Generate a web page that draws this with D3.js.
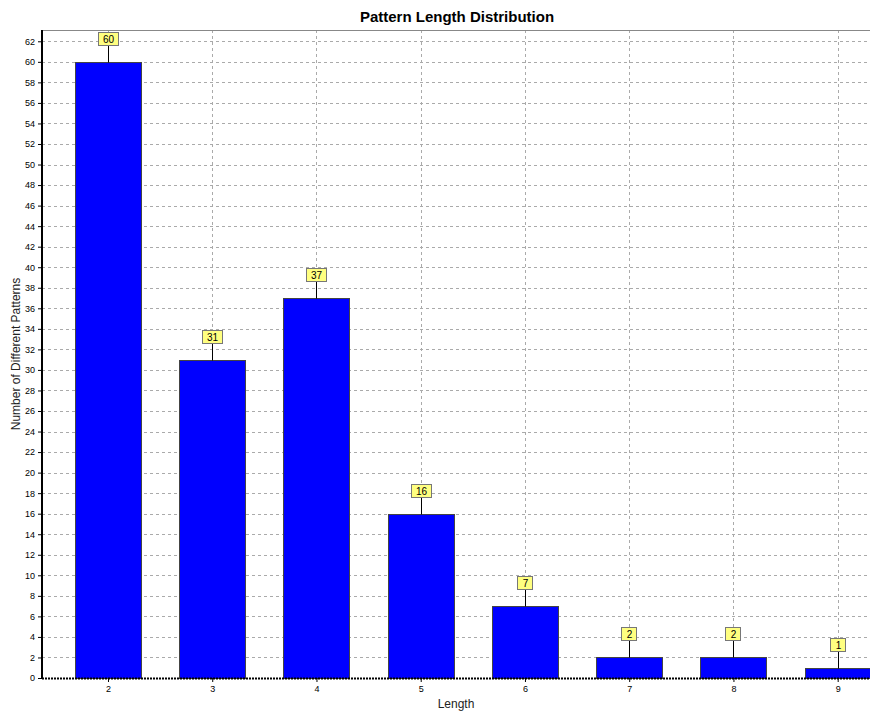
<!DOCTYPE html>
<html><head><meta charset="utf-8">
<script src="https://cdn.jsdelivr.net/npm/d3@7"></script>
<style>body{margin:0;background:#fff}svg{display:block}text{font-family:"Liberation Sans",Arial,sans-serif}</style>
</head><body><svg id="c" width="870" height="711"></svg>
<script>
const categories = [2,3,4,5,6,7,8,9];
const values = [60,31,37,16,7,2,2,1];
const yTicks = d3.range(0,63,2);
const title = "Pattern Length Distribution";
const xTitle = "Length";
const yTitle = "Number of Different Patterns";

const svg = d3.select("#c");
const L=42, R=870, T=30, B=678;
const x = d3.scaleLinear().domain([1.367, 9.31]).range([L, R]);
const y = d3.scaleLinear().domain([0, 63.1]).range([B, T]);
const barW = 66;

// grid
svg.append("g").selectAll("line").data(yTicks.filter(d=>d>0)).join("line")
  .attr("x1",L).attr("x2",R).attr("y1",d=>Math.round(y(d))+0.5).attr("y2",d=>Math.round(y(d))+0.5)
  .attr("stroke","#aaa").attr("stroke-dasharray","3,3");
svg.append("g").selectAll("line").data(categories).join("line")
  .attr("x1",d=>Math.round(x(d))+0.5).attr("x2",d=>Math.round(x(d))+0.5).attr("y1",T).attr("y2",B)
  .attr("stroke","#aaa").attr("stroke-dasharray","3,3");

// top border
svg.append("line").attr("x1",L).attr("x2",R).attr("y1",T+0.5).attr("y2",T+0.5).attr("stroke","#888");

// bars
svg.append("g").selectAll("rect").data(values).join("rect")
  .attr("x",(d,i)=>Math.round(x(categories[i])-barW/2)+0.5)
  .attr("y",d=>Math.round(y(d))+0.5)
  .attr("width",barW).attr("height",d=>Math.round(B-y(d)))
  .attr("fill","#0000ff").attr("stroke","#444").attr("stroke-width",1);

// axes
const yAxis = d3.axisLeft(y).tickValues(yTicks).tickSize(4).tickPadding(3);
const gy = svg.append("g").attr("transform",`translate(${L},0)`).call(yAxis);
gy.select(".domain").remove();
gy.selectAll("text").attr("font-size",9).attr("fill","#000");
svg.append("line").attr("x1",L).attr("x2",L).attr("y1",T).attr("y2",B+1).attr("stroke","#000").attr("stroke-width",2);

const xAxis = d3.axisBottom(x).tickValues(categories).tickFormat(d3.format("d")).tickSize(4).tickPadding(4);
const gx = svg.append("g").attr("transform",`translate(0,${B})`).call(xAxis);
gx.select(".domain").remove();
gx.selectAll("text").attr("font-size",9).attr("fill","#000");
svg.append("line").attr("x1",L).attr("x2",R).attr("y1",B+0.5).attr("y2",B+0.5).attr("stroke","#000").attr("stroke-width",2).attr("stroke-dasharray","2,1");

// labels
const lab = svg.append("g").selectAll("g").data(values).join("g")
  .attr("transform",(d,i)=>`translate(${Math.round(x(categories[i]))+0.5},${Math.round(y(d))+0.5})`);
lab.append("line").attr("x1",0).attr("x2",0).attr("y1",0).attr("y2",-17).attr("stroke","#000");
lab.each(function(d){
  const g=d3.select(this);
  const w = String(d).length>1?20:15;
  g.append("rect").attr("x",-Math.round(w/2)).attr("y",-30).attr("width",w).attr("height",13)
    .attr("fill","#ffff80").attr("stroke","#777");
  g.append("text").attr("x",0).attr("y",-20).attr("text-anchor","middle").attr("font-size",10).text(d);
});

// titles
svg.append("text").attr("x",457).attr("y",22).attr("text-anchor","middle").attr("font-size",15).attr("font-weight","bold").text(title);
svg.append("text").attr("x",(L+R)/2).attr("y",708).attr("text-anchor","middle").attr("font-size",12).attr("fill","#222").text(xTitle);
svg.append("text").attr("transform",`translate(20,${(T+B)/2}) rotate(-90)`).attr("text-anchor","middle").attr("font-size",12).attr("fill","#222").text(yTitle);
</script></body></html>
